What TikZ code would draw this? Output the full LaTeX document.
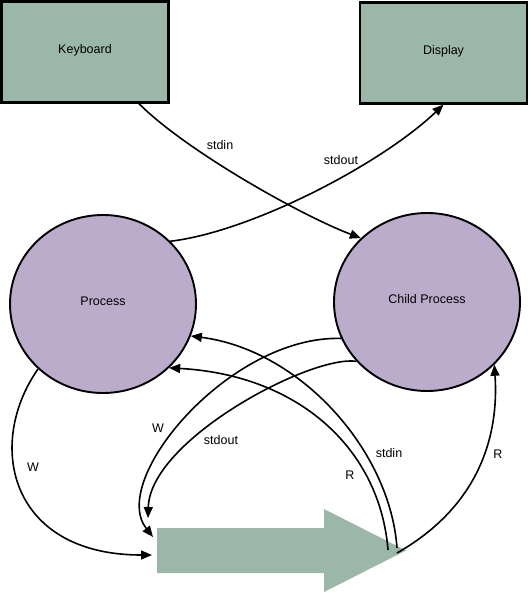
\documentclass[tikz,border=0pt]{standalone}
\usepackage{fontspec}
\setmainfont{Liberation Sans}
\usetikzlibrary{arrows.meta,shapes.geometric}
\definecolor{boxgreen}{HTML}{9BB7AA}
\definecolor{procpurple}{HTML}{BCACCB}
\tikzset{
  lbl/.style={font=\fontsize{12.5}{14}\selectfont, inner sep=0pt},
  boxnode/.style={draw=black, line width=2.3pt, fill=boxgreen, rectangle, minimum width=167pt, minimum height=101pt, inner sep=0pt},
  procnode/.style={draw=black, line width=1.9pt, fill=procpurple, ellipse, minimum width=186pt, minimum height=178pt, inner sep=0pt},
  conn/.style={draw=black, line width=1.6pt, -{Triangle[length=11pt,width=9pt]}}
}
\begin{document}
\begin{tikzpicture}[x=1pt,y=-1pt]
\useasboundingbox (0,0) rectangle (530,593);
% boxes
\node[boxnode, label={[lbl, yshift=2pt]center:Keyboard}] (kbd) at (85,52) {};
\node[boxnode, label={[lbl, yshift=2pt]center:Display}] (disp) at (443.5,53) {};
% processes
\node[procnode, label={[lbl, yshift=3pt]center:Process}] (proc) at (103,304) {};
\node[procnode, label={[lbl, yshift=3pt]center:Child Process}] (child) at (427,302) {};
% big arrow (pipe)
\fill[boxgreen] (157,528) -- (324,528) -- (324,509) -- (406,550.5) -- (324,592) -- (324,573) -- (157,573) -- cycle;
\coordinate (pW) at (152,555);
\coordinate (pCW) at (153,537);
\coordinate (pCout) at (148,518);
\coordinate (pIn) at (397,548);
\coordinate (pR) at (388,550);
\coordinate (pRc) at (397,553);
% top connectors
\draw[conn] ([xshift=54pt]kbd.south) .. controls (185,150) and (300,215) .. (child.136.8);
\draw[conn] (proc.43) .. controls (250,232) and (380,165) .. (disp.south);
% process W
\draw[conn] (proc.-135.9) .. controls (-15,445) and (10,555) .. (pW);
% child W
\draw[conn] (child.203.3) .. controls (230,335) and (108,480) .. (pCW);
% child stdout
\draw[conn] (child.220.7) .. controls (310,355) and (150,440) .. (pCout);
% stdin to process
\draw[conn] (pIn) .. controls (390,450) and (300,350) .. (proc.-20.8);
% R to process
\draw[conn] (pR) .. controls (380,450) and (300,375) .. (proc.-44.1);
% R to child
\draw[conn] (pRc) .. controls (490,500) and (498,420) .. (child.-43.3);
% labels
\node[lbl] (l1) at (220,145) {stdin};
\node[lbl] (l2) at (341,160) {stdout};
\node[lbl] (l3) at (33,467) {W};
\node[lbl] (l4) at (158,428) {W};
\node[lbl] (l5) at (221,440) {stdout};
\node[lbl] (l6) at (350,475) {R};
\node[lbl] (l7) at (389,453) {stdin};
\node[lbl] (l8) at (498,454) {R};
\end{tikzpicture}
\end{document}
